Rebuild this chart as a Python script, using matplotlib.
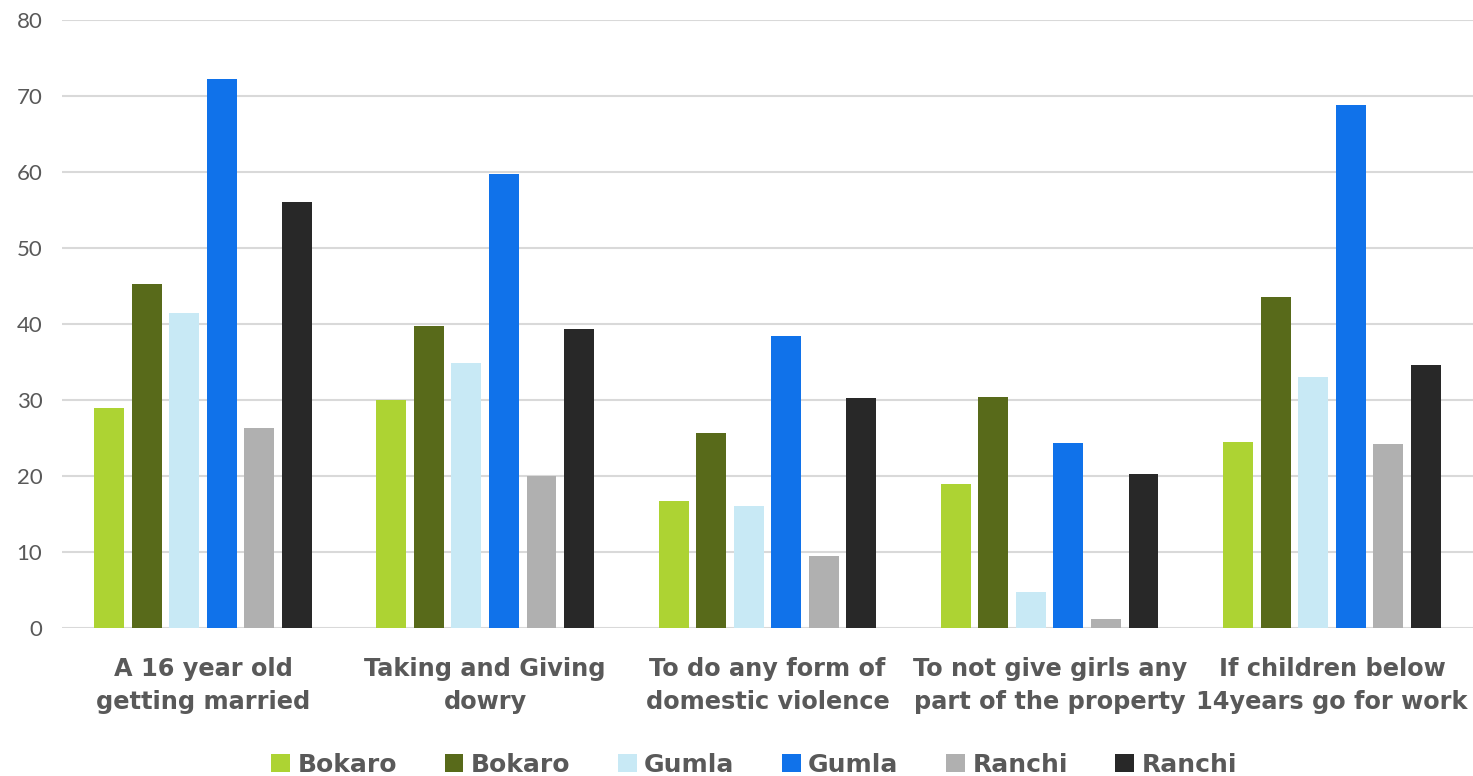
import numpy as np
import matplotlib
matplotlib.use("Agg")
import matplotlib.pyplot as plt

categories = ["A 16 year old\ngetting married", "Taking and Giving\ndowry",
              "To do any form of\ndomestic violence", "To not give girls any\npart of the property",
              "If children below\n14years go for work"]
series_names = ["Bokaro", "Bokaro", "Gumla", "Gumla", "Ranchi", "Ranchi"]
bokaro_1 = [28.9, 30.0, 16.7, 18.9, 24.4]
bokaro_2 = [45.3, 39.7, 25.6, 30.4, 43.6]
gumla_1 = [41.5, 34.9, 16.0, 4.7, 33.0]
gumla_2 = [72.3, 59.8, 38.4, 24.3, 68.8]
ranchi_1 = [26.3, 20.0, 9.5, 1.1, 24.2]
ranchi_2 = [56.0, 39.3, 30.3, 20.2, 34.6]
series = [bokaro_1, bokaro_2, gumla_1, gumla_2, ranchi_1, ranchi_2]
colors = ["#ADD333", "#586A1A", "#C8E9F5", "#1072EA", "#B0B0B0", "#282828"]

plt.rcParams['font.family'] = ['Lato', 'DejaVu Sans']
text_color = "#595959"

fig = plt.figure(figsize=(14.73, 7.76), dpi=100)
ax = fig.add_axes([0.042, 0.191, 0.958, 0.783])

x = np.arange(len(categories))
step = 0.133
width = 0.106
for i, (vals, c, name) in enumerate(zip(series, colors, series_names)):
    ax.bar(x + (i - 2.5) * step, vals, width, color=c, label=name, zorder=3)

ax.set_xlim(-0.5, 4.5)
ax.set_ylim(0, 80)
ax.set_yticks(range(0, 81, 10))
ax.yaxis.grid(True, color="#D9D9D9", linewidth=1.5, zorder=0)
for s in ax.spines.values():
    s.set_visible(False)
ax.tick_params(axis="y", length=0, labelsize=16, labelcolor=text_color, pad=14)
ax.tick_params(axis="x", length=0, pad=21)
ax.set_xticks(x)
ax.set_xticklabels(categories, fontsize=17.3, fontweight="bold", color=text_color,
                   linespacing=1.45, family="DejaVu Sans")

leg = fig.legend(loc="lower center", bbox_to_anchor=(0.512, -0.03), ncol=6, frameon=False,
                 handlelength=0.75, handleheight=0.75, handletextpad=0.3, columnspacing=1.9,
                 prop={"size": 18, "weight": "bold", "family": "DejaVu Sans"})
for t in leg.get_texts():
    t.set_color(text_color)

fig.savefig("out.png", dpi=100)
